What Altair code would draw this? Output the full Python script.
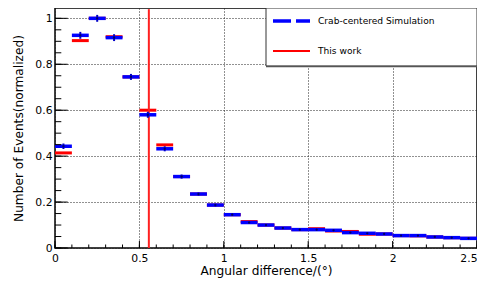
import altair as alt
import pandas as pd

# ---- data ----
bin_lo = [round(0.1 * i, 1) for i in range(25)]
sim_vals = [0.443, 0.926, 1.000, 0.916, 0.745, 0.580, 0.432, 0.311, 0.235, 0.187,
            0.145, 0.111, 0.100, 0.087, 0.080, 0.080, 0.077, 0.067, 0.064, 0.061,
            0.054, 0.054, 0.048, 0.045, 0.042]
sim_err = [0.012, 0.015, 0.015, 0.015, 0.013, 0.013, 0.011, 0.009, 0.007, 0.006,
           0.005, 0.004, 0.004, 0.004, 0.003, 0.003, 0.003, 0.003, 0.003, 0.003,
           0.003, 0.003, 0.003, 0.003, 0.003]
work_vals = [0.414, 0.903, 1.000, 0.920, 0.745, 0.600, 0.449, 0.311, 0.235, 0.187,
             0.145, 0.115, 0.100, 0.087, 0.080, 0.084, 0.074, 0.072, 0.060, 0.061,
             0.054, 0.053, 0.048, 0.045, 0.042]
cut_x = [0.556]
cut_top = [1.04]
series_names = ["Crab-centered Simulation", "This work"]
x_major = [0, 0.5, 1.0, 1.5, 2.0, 2.5]
x_minor = [round(0.1 * i, 1) for i in range(26)]
y_major = [0, 0.2, 0.4, 0.6, 0.8, 1.0]
y_minor = [round(0.05 * i, 2) for i in range(21)]

df = pd.DataFrame({
    "lo": bin_lo,
    "hi": [round(v + 0.1, 1) for v in bin_lo],
    "mid": [round(v + 0.05, 2) for v in bin_lo],
    "sim": sim_vals,
    "sim_lo": [v - e for v, e in zip(sim_vals, sim_err)],
    "sim_hi": [v + e for v, e in zip(sim_vals, sim_err)],
    "work": work_vals,
})
cut_df = pd.DataFrame({"x": cut_x, "y0": [0.0], "y1": cut_top})
xmaj_df = pd.DataFrame({"v": x_major})
xmin_df = pd.DataFrame({"v": x_minor})
ymaj_df = pd.DataFrame({"v": y_major})
ymin_df = pd.DataFrame({"v": y_minor})

W, H = 422, 240
FONT = "DejaVu Sans"

xs = alt.Scale(domain=[0, 2.5], nice=False, zero=False)
ys = alt.Scale(domain=[0, 1.045], nice=False, zero=False)

xaxis = alt.Axis(values=x_major, format="~g", title="Angular difference/(\u00b0)",
                 ticks=False, domain=False, grid=True, gridDash=[1, 2],
                 gridColor="#222222", gridWidth=1, labelFontSize=10.8,
                 labelFont=FONT, labelColor="black", labelPadding=4,
                 labelAlign={"condition": {"test": "datum.value >= 2.5", "value": "right"},
                             "value": "center"},
                 labelFlush=False, labelOverlap=False,
                 titleFont=FONT, titleFontSize=12.2, titleFontWeight="normal",
                 titleColor="black", titleY=26, titleBaseline="alphabetic")
yaxis = alt.Axis(values=y_major, format="~g", title="Number of Events(normalized)",
                 ticks=False, domain=False, grid=True, gridDash=[1, 2],
                 gridColor="#222222", gridWidth=1, labelFontSize=10.8,
                 labelFont=FONT, labelColor="black", labelPadding=3,
                 labelFlush=False, labelOverlap=False,
                 titleFont=FONT, titleFontSize=12.2, titleFontWeight="normal",
                 titleColor="black", titleX=-33, titleY=H / 2,
                 titleAngle=270, titleAlign="center", titleBaseline="alphabetic")

base = alt.Chart(df)

red_bars = base.mark_rule(color="#ff0000", strokeWidth=3).encode(
    x=alt.X("lo:Q", scale=xs, axis=xaxis),
    x2="hi:Q",
    y=alt.Y("work:Q", scale=ys, axis=yaxis),
)

cut_line = alt.Chart(cut_df).mark_rule(color="#ff2020", strokeWidth=2).encode(
    x=alt.X("x:Q", scale=xs, axis=xaxis),
    y=alt.Y("y0:Q", scale=ys, axis=yaxis),
    y2="y1:Q",
)

blue_bars = base.mark_rule(color="#0000ff", strokeWidth=3.5).encode(
    x=alt.X("lo:Q", scale=xs, axis=xaxis),
    x2="hi:Q",
    y=alt.Y("sim:Q", scale=ys, axis=yaxis),
)

blue_err = base.mark_rule(color="#0000c8", strokeWidth=2).encode(
    x=alt.X("mid:Q", scale=xs, axis=xaxis),
    y=alt.Y("sim_lo:Q", scale=ys, axis=yaxis),
    y2="sim_hi:Q",
)

blue_dot = base.mark_point(color="#000060", filled=True, size=5, opacity=1).encode(
    x=alt.X("mid:Q", scale=xs, axis=xaxis),
    y=alt.Y("sim:Q", scale=ys, axis=yaxis),
)

# inward ROOT-style ticks
xmaj_t = alt.Chart(xmaj_df).mark_rule(color="black", strokeWidth=1).encode(
    x=alt.X("v:Q", scale=xs, axis=xaxis), y=alt.value(H), y2=alt.value(H - 7))
xmin_t = alt.Chart(xmin_df).mark_rule(color="black", strokeWidth=1).encode(
    x=alt.X("v:Q", scale=xs, axis=xaxis), y=alt.value(H), y2=alt.value(H - 3.5))
ymaj_t = alt.Chart(ymaj_df).mark_rule(color="black", strokeWidth=1).encode(
    y=alt.Y("v:Q", scale=ys, axis=yaxis), x=alt.value(0), x2=alt.value(12.7))
ymin_t = alt.Chart(ymin_df).mark_rule(color="black", strokeWidth=1).encode(
    y=alt.Y("v:Q", scale=ys, axis=yaxis), x=alt.value(0), x2=alt.value(6.3))

# legend box (drawn manually, ROOT TLegend style)
leg_box = alt.Chart(cut_df).mark_rect(fill="white", stroke="#333333", strokeWidth=1).encode(
    x=alt.value(211), x2=alt.value(W), y=alt.value(0), y2=alt.value(58))
leg_shadow = alt.Chart(cut_df).mark_rule(color="#555555", strokeWidth=1.5).encode(
    x=alt.value(211), x2=alt.value(W), y=alt.value(58.5))
leg_sim = alt.Chart(cut_df).mark_rule(color="#0000ff", strokeWidth=3.5,
                                      strokeDash=[18, 5]).encode(
    x=alt.value(218), x2=alt.value(255), y=alt.value(13))
leg_work = alt.Chart(cut_df).mark_rule(color="#ff0000", strokeWidth=2).encode(
    x=alt.value(218), x2=alt.value(255), y=alt.value(43))
leg_t1 = alt.Chart(cut_df).mark_text(align="left", baseline="middle", font=FONT,
                                     fontSize=9.1, color="black").encode(
    x=alt.value(263), y=alt.value(13), text=alt.value(series_names[0]))
leg_t2 = alt.Chart(cut_df).mark_text(align="left", baseline="middle", font=FONT,
                                     fontSize=9.1, color="black").encode(
    x=alt.value(263), y=alt.value(43), text=alt.value(series_names[1]))

chart = alt.layer(
    red_bars, cut_line, blue_bars, blue_err, blue_dot,
    xmaj_t, xmin_t, ymaj_t, ymin_t,
    leg_box, leg_shadow, leg_sim, leg_work, leg_t1, leg_t2,
).properties(
    width=W, height=H,
    autosize=alt.AutoSizeParams(type="none"),
    padding={"left": 47, "top": 0, "right": 0, "bottom": 32},
    background="white",
).configure_view(stroke="black", strokeWidth=1.5)

chart.save("out.html", embed_options={"renderer": "svg", "actions": False})
